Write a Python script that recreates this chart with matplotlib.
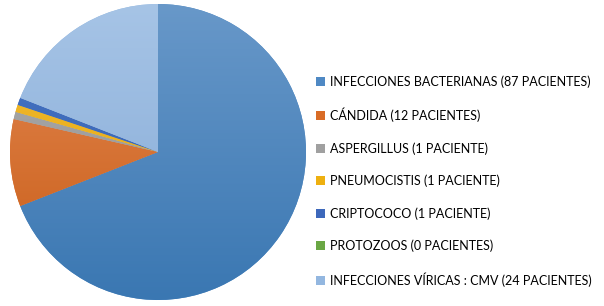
import matplotlib.pyplot as plt
import matplotlib.colors as mcolors
import numpy as np

labels = ["INFECCIONES BACTERIANAS (87 PACIENTES)", "CÁNDIDA (12 PACIENTES)",
          "ASPERGILLUS (1 PACIENTE)", "PNEUMOCISTIS (1 PACIENTE)",
          "CRIPTOCOCO (1 PACIENTE)", "PROTOZOOS (0 PACIENTES)",
          "INFECCIONES VÍRICAS : CMV (24 PACIENTES)"]
values = [87, 12, 1, 1, 1, 0, 24]
colors = ["#4f89c4", "#d96c26", "#a0a0a0", "#eeb010", "#3d68bb", "#6aa744", "#93b7e0"]
# gradient ends (top, bottom) for each slice
tops = ["#6898c9", "#e58a55", "#b0b0b0", "#f5bd3a", "#4a78c8", "#7bb35a", "#a6c4e6"]
bottoms = ["#3a77b2", "#c75b14", "#8c8c8c", "#e0a400", "#2f5aa8", "#5a9638", "#84a9d6"]

plt.rcParams['font.family'] = ['Lato', 'DejaVu Sans']

fig = plt.figure(figsize=(6.04, 3.06), dpi=100)
ax = fig.add_axes([10 / 604, 6 / 306, 296 / 604, 296 / 306])
wedges, _ = ax.pie(values, colors=colors, startangle=90, counterclock=False,
                   radius=1, wedgeprops=dict(linewidth=0))
ax.set_xlim(-1, 1)
ax.set_ylim(-1, 1)
ax.set_aspect('equal')
ax.axis('off')

# Excel-like vertical gradient: lighter at the top, darker at the bottom
grad = np.linspace(0, 1, 256)[:, None, None]
for w, t, b in zip(wedges, tops, bottoms):
    top = np.array(mcolors.to_rgb(t))
    bottom = np.array(mcolors.to_rgb(b))
    img = top * (1 - grad) + bottom * grad
    img = np.repeat(img, 2, axis=1)
    im = ax.imshow(img, extent=[-1, 1, -1, 1], origin='upper', zorder=w.get_zorder() + 0.1,
                   interpolation='bilinear')
    im.set_clip_path(w)

fig.legend(wedges, labels, loc='upper left', bbox_to_anchor=(311 / 604, 1 - 70 / 306),
           frameon=False, fontsize=9, handlelength=0.75, handleheight=0.75,
           handletextpad=0.4, labelspacing=1.6, borderaxespad=0)

fig.savefig("out.png", dpi=100)
